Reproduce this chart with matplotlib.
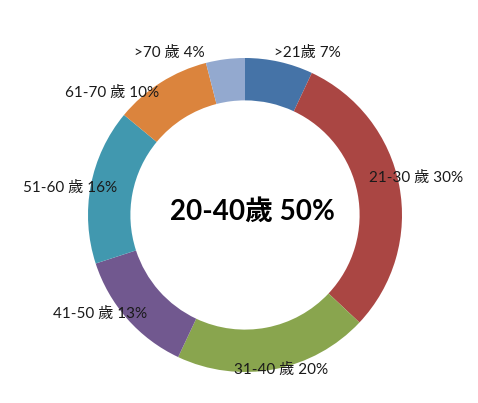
import matplotlib
matplotlib.use("Agg")
import matplotlib.pyplot as plt

# data, clockwise from 12 o'clock
groups = [">21歲", "21-30 歲", "31-40 歲", "41-50 歲", "51-60 歲", "61-70 歲", ">70 歲"]
shares = [7, 30, 20, 13, 16, 10, 4]
colors = ["#4573A7", "#AA4643", "#89A54E", "#71588F", "#4198AF", "#DB843D", "#93A9CF"]
center_text = "20-40歲 50%"

# label centres in pixels (from top-left), like Excel's best-fit placement
label_px = [(307, 53), (416, 178), (281, 370), (100, 314), (70, 188), (112, 93), (169, 53)]

W, H = 478, 403
cx, cy, R = 245, 215, 157

plt.rcParams['font.family'] = ['Lato', 'Noto Sans CJK TC', 'DejaVu Sans']

fig = plt.figure(figsize=(W / 100, H / 100), dpi=100)
ax = fig.add_axes([0, 0, 1, 1])

ax.pie(shares, colors=colors, startangle=90, counterclock=False,
       radius=1.0, wedgeprops=dict(width=0.27, linewidth=0))
ax.set_aspect('auto')
ax.set_xlim(-cx / R, (W - cx) / R)
ax.set_ylim((cy - H) / R, cy / R)
ax.axis('off')

for g, s, (px, py) in zip(groups, shares, label_px):
    ax.text((px - cx) / R, (cy - py) / R, f"{g} {s}%", ha='center', va='center',
            fontsize=11, color='#1a1a1a')

ax.text((252 - cx) / R, (cy - 212) / R, center_text, ha='center', va='center',
        fontsize=20, fontweight='bold', color='black')

fig.savefig("out.png", dpi=100)
